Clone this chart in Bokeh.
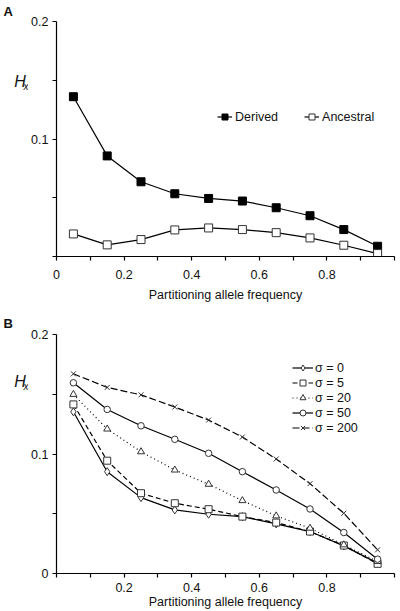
from bokeh.plotting import figure
from bokeh.models import FixedTicker, Label, Legend, LegendItem, Range1d, ColumnDataSource
from bokeh.layouts import column, row
from bokeh.embed import file_html
from bokeh.resources import INLINE

# ---------------- data ----------------
freq = [0.05, 0.15, 0.25, 0.35, 0.45, 0.55, 0.65, 0.75, 0.85, 0.95]

derived = [0.136, 0.0856, 0.0636, 0.0534, 0.0494, 0.0472, 0.0415, 0.0347, 0.0229, 0.0087]
ancestral = [0.0192, 0.0099, 0.0144, 0.0226, 0.0243, 0.0229, 0.0203, 0.0158, 0.0096, 0.0025]

sigma_0 = [0.1353, 0.0852, 0.0635, 0.0532, 0.0496, 0.0476, 0.0415, 0.0351, 0.0231, 0.0087]
sigma_5 = [0.1415, 0.0944, 0.0672, 0.0588, 0.0538, 0.0476, 0.0426, 0.0351, 0.0234, 0.0081]
sigma_20 = [0.1499, 0.1209, 0.1019, 0.0866, 0.0747, 0.0610, 0.0482, 0.0379, 0.0240, 0.0100]
sigma_50 = [0.1596, 0.1373, 0.1236, 0.1123, 0.1006, 0.0852, 0.0699, 0.0540, 0.0343, 0.0120]
sigma_200 = [0.1671, 0.1557, 0.1495, 0.1393, 0.1284, 0.1142, 0.0958, 0.0752, 0.0504, 0.0198]

x_ticks = [0, 0.1, 0.2, 0.3, 0.4, 0.5, 0.6, 0.7, 0.8, 0.9, 1.0]
x_tick_labels_a = {0: "0", 0.2: "0.2", 0.4: "0.4", 0.6: "0.6", 0.8: "0.8"}
x_tick_labels_b = {0.2: "0.2", 0.4: "0.4", 0.6: "0.6", 0.8: "0.8"}
y_ticks = [0, 0.05, 0.1, 0.15, 0.2]
y_tick_labels_a = {0.1: "0.1", 0.2: "0.2"}
y_tick_labels_b = {0: "0", 0.1: "0.1", 0.2: "0.2"}

FONT = "Liberation Sans"
FS = "12.5px"
INK = "#111111"


def style(p, xlabels, ylabels, label_standoff_x, axis_label_standoff):
    p.xgrid.visible = False
    p.ygrid.visible = False
    p.outline_line_color = None
    p.background_fill_color = "white"
    p.border_fill_color = "white"
    p.xaxis.ticker = FixedTicker(ticks=x_ticks)
    p.yaxis.ticker = FixedTicker(ticks=y_ticks)
    p.xaxis.major_label_overrides = {t: xlabels.get(t, "") for t in x_ticks}
    p.yaxis.major_label_overrides = {t: ylabels.get(t, "") for t in y_ticks}
    for ax in (p.xaxis, p.yaxis):
        ax.minor_tick_line_color = None
        ax.major_tick_out = 4
        ax.major_tick_in = 0
        ax.axis_line_color = "black"
        ax.major_tick_line_color = "black"
        ax.axis_line_width = 1.2
        ax.major_tick_line_width = 1.2
        ax.major_label_text_font = FONT
        ax.major_label_text_font_size = FS
        ax.major_label_text_color = INK
        ax.axis_label_text_font = FONT
        ax.axis_label_text_font_size = FS
        ax.axis_label_text_font_style = "normal"
        ax.axis_label_text_color = INK
    p.xaxis.major_label_standoff = label_standoff_x
    p.yaxis.major_label_standoff = 4
    p.xaxis.axis_label = "Partitioning allele frequency"
    p.xaxis.axis_label_standoff = axis_label_standoff


# ---------------- panel A ----------------
pA = figure(width=372, height=304, output_backend="svg", toolbar_location=None,
            x_range=Range1d(0, 1.0), y_range=Range1d(0, 0.2),
            min_border_left=26, min_border_right=6, min_border_top=21, min_border_bottom=47)
style(pA, x_tick_labels_a, y_tick_labels_a, 9, 6)

srcA = ColumnDataSource(dict(x=freq, d=derived, a=ancestral))
ld = pA.line("x", "d", source=srcA, line_color="black", line_width=1.2)
sd = pA.scatter("x", "d", source=srcA, marker="square", size=8, fill_color="black", line_color="black")
la = pA.line("x", "a", source=srcA, line_color="black", line_width=1.2)
sa = pA.scatter("x", "a", source=srcA, marker="square", size=8, fill_color="white", line_color="#333333")

legA = Legend(items=[LegendItem(label="Derived", renderers=[ld, sd]),
                     LegendItem(label="Ancestral", renderers=[la, sa])],
              orientation="horizontal", location=(161, 132),
              glyph_width=15, glyph_height=15, label_standoff=3, spacing=26,
              padding=0, margin=0, border_line_color=None, background_fill_alpha=0,
              label_text_font=FONT, label_text_font_size=FS, label_text_color=INK,
              label_height=15)
pA.add_layout(legA)

# ---------------- panel B ----------------
pB = figure(width=372, height=307, output_backend="svg", toolbar_location=None,
            x_range=Range1d(0, 1.0), y_range=Range1d(0, 0.2),
            min_border_left=26, min_border_right=6, min_border_top=30, min_border_bottom=37)
style(pB, x_tick_labels_b, y_tick_labels_b, 5, 0)

srcB = ColumnDataSource(dict(x=freq, s0=sigma_0, s5=sigma_5, s20=sigma_20, s50=sigma_50, s200=sigma_200))
series = [
    ("s0", "σ = 0", "solid", "diamond", 8),
    ("s5", "σ = 5", "5 3", "square", 7),
    ("s20", "σ = 20", "1 3", "triangle", 7),
    ("s50", "σ = 50", "solid", "circle", 6.5),
    ("s200", "σ = 200", "7 3", "x", 7),
]
itemsB = []
for col, lab, dash, mk, sz in series:
    lr = pB.line("x", col, source=srcB, line_color="black", line_width=1.2, line_dash=dash)
    sr = pB.scatter("x", col, source=srcB, marker=mk, size=sz, fill_color="white",
                    line_color="#333333", line_width=1)
    itemsB.append(LegendItem(label=lab, renderers=[lr, sr]))

legB = Legend(items=itemsB, orientation="vertical", location=(236, 138),
              glyph_width=21, glyph_height=15, label_height=15, label_standoff=2, spacing=0,
              padding=0, margin=0, border_line_color=None, background_fill_alpha=0,
              label_text_font=FONT, label_text_font_size=FS, label_text_color=INK)
pB.add_layout(legB)

# ---------------- left strip with panel letters and H_x labels ----------------
strip = figure(width=28, height=611, output_backend="svg", toolbar_location=None,
               x_range=Range1d(0, 28), y_range=Range1d(611, 0),
               min_border_left=0, min_border_right=0, min_border_top=0, min_border_bottom=0)
strip.axis.visible = False
strip.xgrid.visible = False
strip.ygrid.visible = False
strip.outline_line_color = None
strip.background_fill_color = "white"
strip.border_fill_color = "white"


def add_text(x, y, text, size, style_, align="center", baseline="middle"):
    strip.add_layout(Label(x=x, y=y, text=text, text_font=FONT, text_font_size=size,
                           text_font_style=style_, text_align=align, text_baseline=baseline,
                           text_color=INK))


add_text(3, 3, "A", "13px", "bold", align="left", baseline="top")
add_text(19.5, 81, "H", "16px", "italic")
add_text(25.5, 86, "x", "10px", "italic")
add_text(3, 315, "B", "13px", "bold", align="left", baseline="top")
add_text(19.5, 381, "H", "16px", "italic")
add_text(25.5, 386, "x", "10px", "italic")

layout = row(strip, column(pA, pB, spacing=0), spacing=0)
open("out.html", "w").write(file_html(layout, INLINE))
